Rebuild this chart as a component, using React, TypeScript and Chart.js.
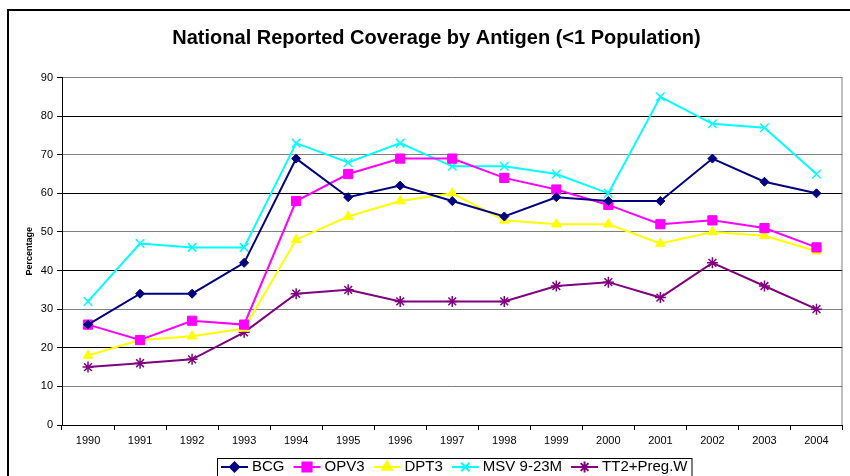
import React, { useEffect, useRef } from 'react';
import { Chart, registerables } from 'chart.js';
import { drawPoint } from 'chart.js/helpers';

Chart.register(...registerables);

const years = ['1990', '1991', '1992', '1993', '1994', '1995', '1996', '1997', '1998', '1999', '2000', '2001', '2002', '2003', '2004'];
const bcg = [26, 34, 34, 42, 69, 59, 62, 58, 54, 59, 58, 58, 69, 63, 60];
const opv3 = [26, 22, 27, 26, 58, 65, 69, 69, 64, 61, 57, 52, 53, 51, 46];
const dpt3 = [18, 22, 23, 25, 48, 54, 58, 60, 53, 52, 52, 47, 50, 49, 45];
const msv = [32, 47, 46, 46, 73, 68, 73, 67, 67, 65, 60, 85, 78, 77, 65];
const tt2 = [15, 16, 17, 24, 34, 35, 32, 32, 32, 36, 37, 33, 42, 36, 30];

const seriesNames = ['BCG', 'OPV3', 'DPT3', 'MSV 9-23M', 'TT2+Preg.W'];
const seriesData = [bcg, opv3, dpt3, msv, tt2];
const seriesColors = ['#000080', '#FF00FF', '#FFFF00', '#00FFFF', '#800080'];
const chartTitle = 'National Reported Coverage by Antigen (<1 Population)';
const yAxisTitle = 'Percentage';
const yMin = 0;
const yMax = 90;
const yStep = 10;

const FONT = "'Liberation Sans', Arial, sans-serif";

const markers = [
  { pointStyle: 'rectRot', radius: 4.5, borderWidth: 1 },
  { pointStyle: 'rect', radius: 6.5, borderWidth: 1 },
  { pointStyle: 'triangle', radius: 5.5, borderWidth: 1 },
  { pointStyle: 'crossRot', radius: 6, borderWidth: 1.5 },
  { pointStyle: 'star', radius: 5.5, borderWidth: 1.5 },
];

const framePlugin = {
  id: 'frame',
  beforeDraw(chart: any) {
    const ctx = chart.ctx;
    ctx.save();
    ctx.fillStyle = '#fff';
    ctx.fillRect(0, 0, chart.width, chart.height);
    ctx.strokeStyle = '#000';
    ctx.lineWidth = 2;
    ctx.strokeRect(8, 10, chart.width + 20, chart.height + 20);
    ctx.restore();
  },
  afterDraw(chart: any) {
    const ctx = chart.ctx;
    const a = chart.chartArea;
    ctx.save();
    ctx.strokeStyle = '#808080';
    ctx.lineWidth = 1;
    ctx.beginPath();
    ctx.moveTo(a.right - 0.5, a.top);
    ctx.lineTo(a.right - 0.5, a.bottom);
    ctx.stroke();

    // legend
    ctx.font = `15px ${FONT}`;
    const lineW = 27, gapLT = 4, itemGap = 9, padL = 4, padR = 4;
    const widths = seriesNames.map((n) => ctx.measureText(n).width);
    let total = padL + padR + itemGap * (seriesNames.length - 1);
    widths.forEach((w) => { total += lineW + gapLT + w; });
    const centerX = 454.5;
    const left = Math.round(centerX - total / 2);
    const top = 458;
    const cy = 467;
    ctx.strokeStyle = '#000';
    ctx.lineWidth = 1;
    ctx.strokeRect(left + 0.5, top + 0.5, total, 40);
    let x = left + padL;
    seriesNames.forEach((n, i) => {
      ctx.strokeStyle = seriesColors[i];
      ctx.lineWidth = 2;
      ctx.beginPath();
      ctx.moveTo(x, cy);
      ctx.lineTo(x + lineW, cy);
      ctx.stroke();
      ctx.fillStyle = seriesColors[i];
      ctx.strokeStyle = seriesColors[i];
      drawPoint(ctx, { ...markers[i], rotation: 0 } as any, x + lineW / 2, cy);
      ctx.fillStyle = '#000';
      ctx.textBaseline = 'middle';
      ctx.textAlign = 'left';
      ctx.fillText(n, x + lineW + gapLT, cy);
      x += lineW + gapLT + widths[i] + itemGap;
    });
    ctx.restore();
  },
};

export default function App() {
  const ref = useRef<HTMLCanvasElement>(null);
  useEffect(() => {
    document.body.style.margin = '0';
    const canvas = ref.current!;
    const chart = new Chart(canvas, {
      type: 'line',
      data: {
        labels: years,
        datasets: seriesNames.map((n, i) => ({
          label: n,
          data: seriesData[i],
          borderColor: seriesColors[i],
          backgroundColor: seriesColors[i],
          pointBackgroundColor: seriesColors[i],
          pointBorderColor: seriesColors[i],
          borderWidth: 2,
          pointStyle: markers[i].pointStyle as any,
          pointRadius: markers[i].radius,
          pointBorderWidth: markers[i].borderWidth,
          tension: 0,
          fill: false,
        })),
      },
      options: {
        responsive: false,
        animation: false,
        devicePixelRatio: 1,
        layout: { padding: { left: 24, right: 1, top: 0, bottom: 21 } },
        plugins: {
          legend: { display: false },
          tooltip: { enabled: false },
          title: {
            display: true,
            text: chartTitle,
            color: '#000',
            font: { size: 20, weight: 'bold', family: FONT },
            padding: { top: 26, bottom: 27.5 },
          },
        },
        scales: {
          x: {
            offset: true,
            grid: { offset: true, drawOnChartArea: false, tickLength: 5, tickColor: '#000', tickWidth: 1 },
            border: { color: '#000', width: 1 },
            ticks: { font: { size: 11, family: FONT }, color: '#000', padding: 4, maxRotation: 0, autoSkip: false },
            afterFit: (s: any) => { s.height = 30; },
          },
          y: {
            min: yMin,
            max: yMax,
            ticks: { stepSize: yStep, font: { size: 11, family: FONT }, color: '#000', padding: 4 },
            grid: {
              color: (c: any) => (c.tick && c.tick.value % 20 === 0 ? '#000' : '#808080'),
              tickColor: '#000',
              tickLength: 5,
              lineWidth: 1,
            },
            border: { color: '#000', width: 1 },
            title: {
              display: true,
              text: yAxisTitle,
              color: '#000',
              font: { size: 9, weight: 'bold', family: FONT },
              padding: { top: 0, bottom: 0 },
            },
            afterFit: (s: any) => { s.width = 38; },
          },
        },
      },
      plugins: [framePlugin],
    });
    return () => chart.destroy();
  }, []);
  return <canvas ref={ref} width={850} height={476} style={{ display: 'block' }} />;
}
